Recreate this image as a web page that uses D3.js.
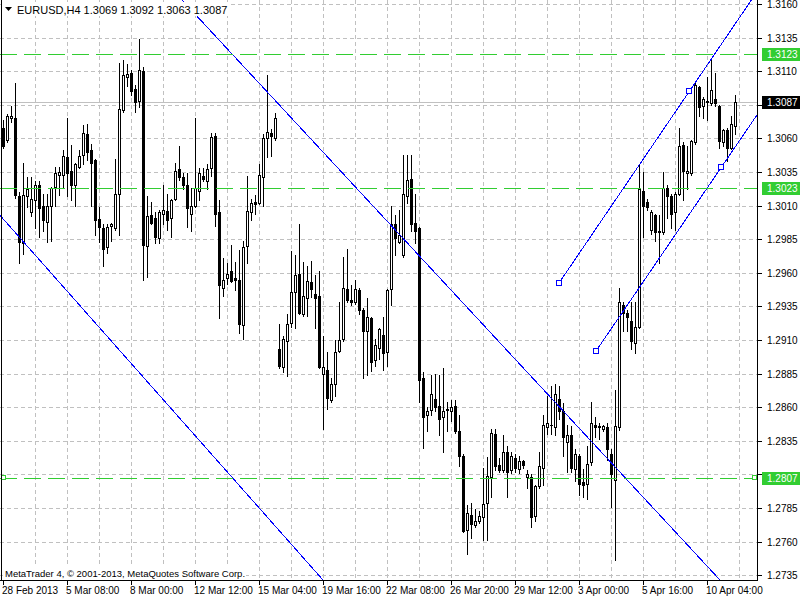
<!DOCTYPE html>
<html><head><meta charset="utf-8">
<script src="https://cdn.jsdelivr.net/npm/d3@7"></script>
<style>body{margin:0;background:#fff}svg{display:block}text{font-family:"Liberation Sans",Arial,sans-serif;font-size:10px}</style>
</head><body><svg id="c" width="800" height="600"></svg>
<script>
const symbol = "EURUSD,H4";
const opens = [1.3068,1.3059,1.3075,1.3075,1.3017,1.2982,1.3017,1.3005,1.3014,1.3025,1.3010,1.2998,1.3010,1.3024,1.3033,1.3033,1.3046,1.3036,1.3025,1.3039,1.3048,1.3063,1.3051,1.3044,1.3000,1.2993,1.2979,1.2995,1.2993,1.3019,
1.3081,1.3106,1.3109,1.3097,1.3088,1.3110,1.2980,1.3003,1.3001,1.2986,1.3004,1.3006,1.3001,1.3015,1.3037,1.3031,1.3025,1.3004,1.3010,1.3021,
1.3032,1.3028,1.3038,1.3062,1.3005,1.2949,1.2956,1.2961,1.2956,1.2955,1.2921,1.2980,1.3005,1.3013,1.3012,1.3031,1.3060,1.3064,1.3060,1.2903,
1.2890,1.2909,1.2923,1.2946,1.2959,1.2929,1.2941,1.2953,1.2944,1.2943,1.2885,1.2888,1.2865,1.2877,1.2902,1.2911,1.2948,1.2940,1.2938,1.2947,
1.2932,1.2917,1.2926,1.2895,1.2904,1.2914,1.2901,1.2948,1.2996,1.2983,1.2973,1.3017,1.3030,1.2997,1.2993,1.2882,1.2854,1.2858,1.2866,1.2861,
1.2853,1.2859,1.2857,1.2861,1.2842,1.2824,1.2769,1.2780,1.2772,1.2775,1.2778,1.2789,1.2808,1.2840,1.2817,1.2813,1.2827,1.2813,1.2822,1.2814,
1.2820,1.2808,1.2808,1.2779,1.2801,1.2815,1.2845,1.2847,1.2845,1.2866,1.2857,1.2834,1.2839,1.2814,1.2824,1.2804,1.2803,1.2819,1.2847,1.2845,
1.2844,1.2845,1.2825,1.2806,1.2845,1.2936,1.2930,1.2924,1.2908,1.2920,1.3021,1.3013,1.2992,1.3003,1.2991,1.2990,1.3023,1.3017,1.3005,1.3019,
1.3055,1.3034,1.3034,1.3057,1.3098,1.3084,1.3087,1.3086,1.3089,1.3084,1.3057,1.3066,1.3053,1.3069];
const highs = [1.3074,1.3078,1.3084,1.3101,1.3020,1.3042,1.3031,1.3031,1.3028,1.3028,1.3019,1.3019,1.3024,1.3039,1.3039,1.3051,1.3075,1.3055,1.3042,1.3051,1.3070,1.3071,1.3056,1.3045,1.3009,1.2996,1.2996,1.2997,1.3045,1.3116,
1.3118,1.3115,1.3111,1.3100,1.3134,1.3113,1.3017,1.3013,1.3005,1.3007,1.3025,1.3019,1.3015,1.3042,1.3054,1.3034,1.3034,1.3023,1.3075,1.3038,
1.3038,1.3041,1.3064,1.3064,1.3014,1.2971,1.2967,1.2981,1.2968,1.2977,1.2984,1.3032,1.3015,1.3018,1.3041,1.3063,1.3107,1.3067,1.3079,1.2922,
1.2913,1.2929,1.2976,1.2973,1.2996,1.2968,1.2965,1.2969,1.2958,1.2961,1.2913,1.2901,1.2882,1.2910,1.2938,1.2972,1.2978,1.2951,1.2955,1.2949,
1.2934,1.2941,1.2927,1.2911,1.2919,1.2927,1.2948,1.3010,1.3003,1.3007,1.3048,1.3048,1.3048,1.3019,1.2994,1.2886,1.2860,1.2884,1.2885,1.2884,
1.2889,1.2864,1.2865,1.2865,1.2854,1.2825,1.2787,1.2789,1.2784,1.2783,1.2815,1.2823,1.2844,1.2844,1.2822,1.2839,1.2831,1.2827,1.2825,1.2824,
1.2821,1.2813,1.2810,1.2802,1.2827,1.2854,1.2868,1.2876,1.2877,1.2876,1.2863,1.2847,1.2846,1.2829,1.2825,1.2814,1.2831,1.2864,1.2853,1.2848,
1.2847,1.2848,1.2829,1.2873,1.2949,1.2938,1.2932,1.2938,1.2938,1.3040,1.3035,1.3015,1.3007,1.3004,1.3003,1.3035,1.3025,1.3019,1.3020,1.3068,
1.3057,1.3054,1.3059,1.3103,1.3099,1.3091,1.3106,1.3120,1.3109,1.3085,1.3067,1.3068,1.3077,1.3092];
const lows = [1.3053,1.3057,1.3072,1.3016,1.2967,1.2974,1.3009,1.3002,1.2993,1.2987,1.2991,1.2983,1.2984,1.3010,1.3018,1.3024,1.3017,1.3014,1.3010,1.3038,1.3041,1.3044,1.3010,1.2988,1.2983,1.2965,1.2975,1.2984,1.2992,1.2988,
1.3080,1.3099,1.3092,1.3080,1.3083,1.2955,1.2957,1.2996,1.2982,1.2982,1.2996,1.2992,1.2987,1.3014,1.3029,1.3022,1.2994,1.2991,1.3009,1.3014,
1.3028,1.3022,1.3032,1.2995,1.2926,1.2943,1.2952,1.2953,1.2947,1.2915,1.2911,1.2967,1.2999,1.3004,1.3011,1.3010,1.3046,1.3047,1.3059,1.2889,
1.2886,1.2883,1.2920,1.2919,1.2929,1.2928,1.2928,1.2942,1.2919,1.2889,1.2844,1.2859,1.2864,1.2868,1.2901,1.2909,1.2938,1.2936,1.2937,1.2929,
1.2882,1.2884,1.2887,1.2891,1.2896,1.2888,1.2891,1.2936,1.2973,1.2982,1.2972,1.3012,1.2991,1.2982,1.2864,1.2830,1.2842,1.2854,1.2857,1.2839,
1.2827,1.2842,1.2850,1.2841,1.2816,1.2767,1.2751,1.2763,1.2771,1.2774,1.2761,1.2761,1.2793,1.2813,1.2812,1.2812,1.2793,1.2811,1.2812,1.2811,
1.2815,1.2800,1.2771,1.2775,1.2800,1.2802,1.2840,1.2840,1.2839,1.2851,1.2824,1.2812,1.2812,1.2805,1.2795,1.2793,1.2792,1.2817,1.2838,1.2836,
1.2842,1.2821,1.2786,1.2746,1.2843,1.2917,1.2917,1.2903,1.2900,1.2919,1.2987,1.3007,1.2989,1.2984,1.2967,1.2989,1.3001,1.2993,1.2992,1.3018,
1.3014,1.3022,1.3033,1.3056,1.3077,1.3075,1.3074,1.3085,1.3084,1.3053,1.3054,1.3043,1.3052,1.3063];
const closes = [1.3054,1.3077,1.3077,1.3018,1.2983,1.3018,1.3022,1.3015,1.3025,1.3008,1.2999,1.3010,1.3023,1.3034,1.3035,1.3047,1.3034,1.3025,1.3041,1.3047,1.3064,1.3050,1.3042,1.2999,1.2994,1.2978,1.2994,1.2996,1.3019,1.3082,
1.3107,1.3108,1.3095,1.3087,1.3111,1.2981,1.3002,1.2997,1.2987,1.3005,1.3007,1.2999,1.3014,1.3036,1.3031,1.3025,1.3008,1.3010,1.3023,1.3034,
1.3030,1.3037,1.3061,1.3004,1.2951,1.2955,1.2959,1.2954,1.2955,1.2922,1.2979,1.3006,1.3012,1.3011,1.3033,1.3060,1.3065,1.3062,1.3075,1.2891,
1.2911,1.2922,1.2946,1.2958,1.2930,1.2943,1.2954,1.2948,1.2941,1.2890,1.2890,1.2867,1.2877,1.2901,1.2910,1.2949,1.2940,1.2938,1.2948,1.2932,
1.2917,1.2927,1.2894,1.2906,1.2918,1.2900,1.2947,1.2996,1.2986,1.2988,1.3019,1.3029,1.2996,1.2991,1.2880,1.2853,1.2857,1.2870,1.2860,1.2851,
1.2857,1.2858,1.2860,1.2842,1.2824,1.2768,1.2781,1.2773,1.2775,1.2779,1.2788,1.2809,1.2841,1.2816,1.2813,1.2827,1.2812,1.2824,1.2815,1.2820,
1.2817,1.2810,1.2778,1.2801,1.2816,1.2847,1.2848,1.2847,1.2870,1.2857,1.2838,1.2839,1.2815,1.2825,1.2803,1.2802,1.2818,1.2848,1.2845,1.2846,
1.2846,1.2829,1.2810,1.2846,1.2938,1.2930,1.2927,1.2909,1.2920,1.3022,1.3010,1.3009,1.3005,1.2990,1.2990,1.3023,1.3017,1.3004,1.3019,1.3054,
1.3036,1.3036,1.3058,1.3100,1.3083,1.3089,1.3088,1.3096,1.3086,1.3058,1.3066,1.3053,1.3071,1.3087];
const dateLabels = ["28 Feb 2013","5 Mar 08:00","8 Mar 00:00","12 Mar 12:00","15 Mar 04:00","19 Mar 16:00","22 Mar 08:00","26 Mar 20:00","29 Mar 12:00","3 Apr 00:00","5 Apr 16:00","10 Apr 04:00"];
const dateLabelBars = [0,16,32,48,64,80,96,112,128,144,160,176];
const priceTicks = [1.2735,1.2760,1.2785,1.2810,1.2835,1.2860,1.2885,1.2910,1.2935,1.2960,1.2985,1.3010,1.3035,1.3060,1.3085,1.3110,1.3135,1.3160];
const hLinePrices = [1.3123,1.3023,1.2807];
const bidPrice = 1.3087;
const downLines = [[[50,1.31457],[170,1.27607]],[[0,1.29998],[60,1.27982]]];
const upRays = [[[138.875,1.29524],[171.45,1.30950]],[[148.125,1.29018],[179.45,1.30385]]];
const copyright = "MetaTrader 4, \u00A9 2001-2013, MetaQuotes Software Corp.";

const svg = d3.select("#c");
const plotW = 757, plotH = 580;
const x = d3.scaleLinear().domain([0,1]).range([3.5,7.5]);
const y = d3.scaleLinear().domain([1.2735,1.3160]).range([575.2,4]);
const col = i => Math.floor(x(i));
const row = v => Math.round(y(v));
const green = "#32CD32";

svg.append("rect").attr("width",800).attr("height",600).attr("fill","#fff");

// grid
const grid = svg.append("g").attr("shape-rendering","crispEdges");
grid.selectAll("line.h").data(priceTicks).join("line").attr("class","h")
  .attr("x1",0).attr("x2",plotW).attr("y1",d=>row(d)+0.5).attr("y2",d=>row(d)+0.5)
  .attr("stroke","#c0c0c0").attr("stroke-dasharray","4,3");
grid.selectAll("line.v").data(d3.range(8,185,8)).join("line").attr("class","v")
  .attr("x1",d=>x(d)).attr("x2",d=>x(d)).attr("y1",0).attr("y2",plotH)
  .attr("stroke","#c0c0c0").attr("stroke-dasharray","4,3");
grid.append("line").attr("x1",0).attr("x2",plotW).attr("y1",row(bidPrice)+0.5).attr("y2",row(bidPrice)+0.5)
  .attr("stroke","#c0c0c0");

// candles
const bars = opens.map((o,i)=>({i,o,h:highs[i],l:lows[i],c:closes[i]}));
const cg = svg.append("g").attr("shape-rendering","crispEdges");
const bar = cg.selectAll("g.bar").data(bars).join("g").attr("class","bar");
bar.append("rect").attr("x",d=>col(d.i)).attr("width",1)
  .attr("y",d=>row(d.h)).attr("height",d=>row(d.l)-row(d.h)+1).attr("fill","#000");
bar.append("rect").attr("x",d=>col(d.i)-1).attr("width",3)
  .attr("y",d=>row(Math.max(d.o,d.c))).attr("height",d=>row(Math.min(d.o,d.c))-row(Math.max(d.o,d.c))+1).attr("fill","#000");
bar.filter(d=>d.c>d.o && row(d.o)-row(d.c)>=2).append("rect").attr("x",d=>col(d.i)).attr("width",1)
  .attr("y",d=>row(d.c)+1).attr("height",d=>row(d.o)-row(d.c)-1).attr("fill","#fff");

// objects
svg.append("clipPath").attr("id","plot").append("rect").attr("width",plotW).attr("height",plotH);
const og = svg.append("g").attr("clip-path","url(#plot)");
const ext = (p,q,t) => p[1]+(q[1]-p[1])*(t-p[0])/(q[0]-p[0]);
og.selectAll("line.dn").data(downLines).join("line").attr("class","dn")
  .attr("x1",x(-60)).attr("y1",d=>y(ext(d[0],d[1],-60)))
  .attr("x2",x(260)).attr("y2",d=>y(ext(d[0],d[1],260)))
  .attr("stroke","#0000ff").attr("stroke-width",1).attr("shape-rendering","crispEdges");
og.selectAll("line.up").data(upRays).join("line").attr("class","up")
  .attr("x1",d=>x(d[0][0])).attr("y1",d=>y(d[0][1]))
  .attr("x2",x(230)).attr("y2",d=>y(ext(d[0],d[1],230)))
  .attr("stroke","#0000ff").attr("stroke-width",1).attr("shape-rendering","crispEdges");
og.selectAll("rect.anc").data(upRays.flat()).join("rect").attr("class","anc")
  .attr("x",d=>Math.round(x(d[0]))-2.5).attr("y",d=>Math.round(y(d[1]))-2.5).attr("width",5).attr("height",5)
  .attr("fill","#fff").attr("stroke","#0000ff").attr("shape-rendering","crispEdges");
og.selectAll("line.hl").data(hLinePrices).join("line").attr("class","hl")
  .attr("x1",0).attr("x2",plotW).attr("y1",d=>row(d)+0.5).attr("y2",d=>row(d)+0.5)
  .attr("stroke",green).attr("stroke-dasharray","17,7").attr("shape-rendering","crispEdges");
[3, plotW-3].forEach(px=>{
  svg.append("rect").attr("x",px-1.5).attr("y",row(1.2807)-2.5).attr("width",4).attr("height",4)
    .attr("fill","#fff").attr("stroke",green).attr("shape-rendering","crispEdges");
});

// header & copyright
svg.append("rect").attr("x",2).attr("y",2).attr("width",228).attr("height",14).attr("fill","#fff");
svg.append("path").attr("d","M5,7 L12,7 L8.5,11 Z").attr("fill","#000");
const last = bars[bars.length-1];
svg.append("text").attr("x",17).attr("y",14).style("font-size","11px")
  .text(`${symbol}  ${last.o.toFixed(4)} ${last.h.toFixed(4)} ${last.l.toFixed(4)} ${last.c.toFixed(4)}`);
svg.append("rect").attr("x",3).attr("y",567).attr("width",243).attr("height",12).attr("fill","#fff");
svg.append("text").attr("x",5).attr("y",577).style("font-size","9.5px").text(copyright);

// axes frame
const ax = svg.append("g").attr("shape-rendering","crispEdges");
ax.append("line").attr("x1",plotW+0.5).attr("x2",plotW+0.5).attr("y1",0).attr("y2",plotH+1).attr("stroke","#000");
ax.append("line").attr("x1",0).attr("x2",plotW+1).attr("y1",plotH+0.5).attr("y2",plotH+0.5).attr("stroke","#000");
ax.append("line").attr("x1",1.5).attr("x2",1.5).attr("y1",0).attr("y2",plotH).attr("stroke","#000");

// price axis
const boxes = [...hLinePrices, bidPrice];
const visTicks = priceTicks.filter(t=>boxes.every(b=>Math.abs(row(b)-row(t))>9));
ax.selectAll("line.pt").data(priceTicks).join("line").attr("class","pt")
  .attr("x1",plotW+1).attr("x2",plotW+5).attr("y1",d=>row(d)+0.5).attr("y2",d=>row(d)+0.5).attr("stroke","#000");
svg.selectAll("text.pl").data(visTicks).join("text").attr("class","pl")
  .attr("x",767).attr("y",d=>row(d)+4).text(d=>d.toFixed(4));
const lab = svg.selectAll("g.lab").data(boxes).join("g").attr("class","lab");
lab.append("rect").attr("x",762).attr("y",d=>row(d)-6).attr("width",38).attr("height",13)
  .attr("fill",d=>d===bidPrice?"#000":green);
lab.append("text").attr("x",767).attr("y",d=>row(d)+4).attr("fill","#fff").text(d=>d.toFixed(4));

// time axis
ax.selectAll("line.tt").data(dateLabelBars).join("line").attr("class","tt")
  .attr("x1",d=>x(d)).attr("x2",d=>x(d)).attr("y1",plotH+1).attr("y2",plotH+5).attr("stroke","#000");
svg.selectAll("text.tl").data(dateLabelBars).join("text").attr("class","tl")
  .attr("x",d=>x(d)-1.5).attr("y",594).text((d,i)=>dateLabels[i]);
</script></body></html>
